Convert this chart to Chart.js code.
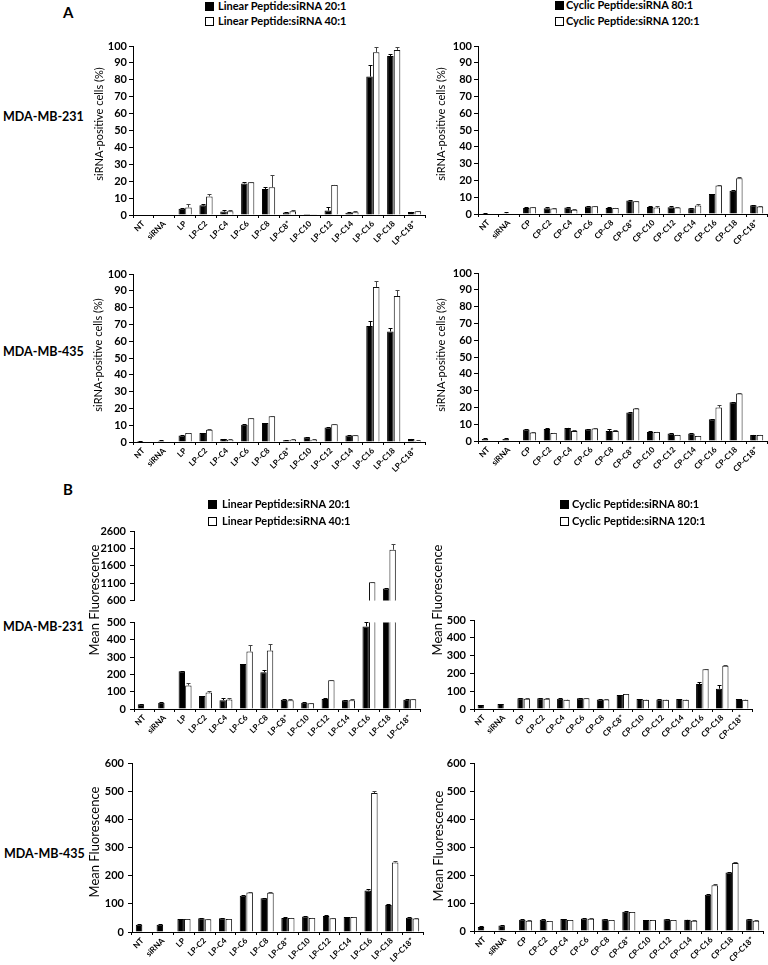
<!DOCTYPE html>
<html>
<head>
<meta charset="utf-8">
<script src="https://cdn.jsdelivr.net/npm/chart.js@4/dist/chart.umd.min.js"></script>
<style>
  html, body { margin:0; padding:0; background:#fff; }
  body { width:768px; height:965px; position:relative; overflow:hidden; font-family:'Lato', sans-serif; color:#000; }
  canvas { position:absolute; }
  .t { position:absolute; white-space:nowrap; }
  .lbl { font-weight:bold; font-size:12.5px; }
  .leg { font-weight:bold; font-size:11px; }
  .sq { position:absolute; width:7px; height:7px; border:1px solid #000; box-sizing:content-box; }
  .rot { position:absolute; white-space:nowrap; transform:translate(-50%,-50%) rotate(-90deg); z-index:5; }
</style>
</head>
<body>
<script>
// ---------------- DATA ----------------
const linearLabels = ['NT','siRNA','LP','LP-C2','LP-C4','LP-C6','LP-C8','LP-C8*','LP-C10','LP-C12','LP-C14','LP-C16','LP-C18','LP-C18*'];
const cyclicLabels = ['NT','siRNA','CP','CP-C2','CP-C4','CP-C6','CP-C8','CP-C8*','CP-C10','CP-C12','CP-C14','CP-C16','CP-C18','CP-C18*'];

// A: siRNA-positive cells (%)
const pos231Linear20 = [0, 0, 3.7, 5.7, 2.0, 18.7, 15.4, 1.5, 0.6, 2.6, 1.4, 81.9, 94.1, 1.8];
const pos231Linear20Err = [0, 0, 0.3, 0.6, 1.0, 1.0, 1.0, 0.2, 0, 2.0, 0.4, 6.7, 1.0, 0.2];
const pos231Linear40 = [0, 0, 4.5, 11.0, 2.2, 19.4, 16.4, 2.2, 0.2, 17.8, 1.6, 96.3, 97.7, 2.2];
const pos231Linear40Err = [0, 0, 1.9, 1.5, 0.5, 0.3, 7.0, 0.8, 0, 0.2, 0.5, 3.0, 2.0, 0.2];

const pos231Cyclic80 = [0.4, 0.5, 3.6, 3.4, 3.8, 4.4, 3.6, 8.0, 4.2, 4.0, 3.4, 11.9, 13.9, 5.2];
const pos231Cyclic80Err = [0.2, 0.5, 0.3, 0.5, 0.5, 0.5, 0.8, 0.2, 0.6, 0.5, 0.4, 0.3, 0.3, 0.2];
const pos231Cyclic120 = [0, 0, 4.0, 3.2, 2.6, 4.6, 3.6, 7.6, 3.8, 3.8, 5.0, 16.9, 21.3, 4.4];
const pos231Cyclic120Err = [0, 0, 0.2, 0.4, 0.3, 0.3, 0.2, 0.2, 1.2, 0.2, 1.2, 0.4, 0.8, 0.2];

const pos435Linear20 = [0.6, 0.8, 3.8, 5.3, 1.8, 10.3, 11.3, 1.0, 2.8, 8.7, 3.8, 69.0, 65.8, 1.8];
const pos435Linear20Err = [0.2, 0.2, 0.2, 0.3, 0.2, 0.3, 0.2, 0.2, 0.2, 0.3, 0.2, 3.3, 2.0, 0.2];
const pos435Linear40 = [0, 0, 5.3, 7.3, 1.4, 14.2, 15.4, 1.4, 1.4, 10.5, 4.0, 92.3, 86.9, 0.8];
const pos435Linear40Err = [0, 0, 0.2, 0.2, 0.3, 0.2, 0.2, 0.3, 0.3, 0.2, 0.2, 3.7, 3.8, 0.3];

const pos435Cyclic80 = [1.2, 1.2, 6.8, 7.2, 7.8, 7.0, 6.0, 16.9, 5.4, 4.4, 4.4, 12.9, 23.1, 3.6];
const pos435Cyclic80Err = [0.6, 0.5, 0.6, 0.5, 0.2, 0.2, 1.0, 0.4, 0.8, 0.6, 0.2, 0.2, 0.2, 0.2];
const pos435Cyclic120 = [0, 0, 5.0, 4.8, 6.0, 7.4, 6.0, 19.3, 5.4, 3.6, 3.0, 19.9, 28.2, 3.6];
const pos435Cyclic120Err = [0, 0, 0.2, 0.2, 0.3, 0.2, 0.4, 0.2, 0.2, 0.2, 0.2, 1.3, 0.3, 0.2];

// B: Mean Fluorescence
const mf231Linear20 = [27, 36, 218, 75, 51, 260, 213, 53, 36, 58, 51, 478, 940, 53];
const mf231Linear20Err = [2, 2, 3, 3, 15, 3, 15, 3, 2, 3, 2, 25, 30, 2];
const mf231Linear40 = [0, 0, 136, 95, 55, 333, 338, 51, 33, 167, 51, 1120, 2060, 57];
const mf231Linear40Err = [0, 0, 12, 10, 8, 40, 38, 4, 2, 2, 6, 20, 170, 3];

const mf231Cyclic80 = [22, 28, 60, 60, 58, 60, 54, 78, 56, 54, 56, 140, 114, 56];
const mf231Cyclic80Err = [2, 1, 2, 2, 2, 2, 2, 2, 2, 2, 2, 12, 20, 2];
const mf231Cyclic120 = [0, 0, 58, 58, 52, 60, 54, 84, 52, 52, 52, 224, 243, 52];
const mf231Cyclic120Err = [0, 0, 1, 1, 1, 1, 1, 2, 1, 1, 1, 2, 3, 1];

const mf435Linear20 = [26, 26, 46, 49, 49, 129, 120, 50, 55, 57, 53, 148, 96, 51];
const mf435Linear20Err = [2, 2, 1, 1, 1, 2, 2, 2, 2, 3, 1, 4, 4, 2];
const mf435Linear40 = [0, 0, 46, 45, 46, 141, 140, 50, 50, 49, 53, 495, 248, 48];
const mf435Linear40Err = [0, 0, 1, 1, 1, 1, 1, 1, 1, 1, 1, 9, 4, 1];

const mf435Cyclic80 = [14, 20, 40, 40, 43, 45, 42, 69, 39, 42, 40, 130, 210, 42];
const mf435Cyclic80Err = [4, 1, 2, 2, 1, 1, 1, 1, 1, 1, 1, 4, 2, 1];
const mf435Cyclic120 = [0, 0, 37, 36, 39, 44, 39, 68, 39, 39, 37, 164, 244, 37];
const mf435Cyclic120Err = [0, 0, 1, 1, 1, 1, 1, 1, 1, 1, 1, 4, 3, 1];

const brokenAxisSplit = 600; // upper segment of the broken axis starts here
// ---------------------------------------

Chart.defaults.font.family = 'Lato';
Chart.defaults.color = '#000';

const errorBars = {
  id: 'errorBars',
  afterDatasetsDraw(chart) {
    const ctx = chart.ctx, a = chart.chartArea;
    ctx.save();
    ctx.beginPath();
    ctx.rect(a.left, a.top - 2, a.right - a.left, a.bottom - a.top + 2);
    ctx.clip();
    chart.data.datasets.forEach((ds, i) => {
      const meta = chart.getDatasetMeta(i);
      const ys = chart.scales[meta.yAxisID];
      (ds.errors || []).forEach((e, j) => {
        const v = ds.data[j];
        if (v == null || !e) return;
        const bar = meta.data[j];
        if (!bar) return;
        const x = Math.round(bar.x) + 0.5;
        const y1 = ys.getPixelForValue(v);
        const y2 = Math.round(ys.getPixelForValue(v + e)) + 0.5;
        ctx.strokeStyle = ds.errColor || '#000';
        ctx.lineWidth = 1;
        ctx.beginPath();
        ctx.moveTo(x, y1);
        ctx.lineTo(x, y2);
        ctx.moveTo(x - 2, y2);
        ctx.lineTo(x + 2, y2);
        ctx.stroke();
      });
    });
    ctx.restore();
  }
};

function panel(cfg) {
  const yW = 40;
  const left = cfg.axisX - yW;
  const top = cfg.canvasTop;
  const bottom = cfg.canvasBottom;
  const right = cfg.canvasRight;
  const cv = document.createElement('canvas');
  cv.width = right - left;
  cv.height = bottom - top;
  cv.style.left = left + 'px';
  cv.style.top = top + 'px';
  cv.style.width = (right - left) + 'px';
  cv.style.height = (bottom - top) + 'px';
  document.body.appendChild(cv);
  const showX = cfg.showX !== false;
  new Chart(cv.getContext('2d'), {
    type: 'bar',
    data: {
      labels: cfg.labels,
      datasets: [
        { data: cfg.a, errors: cfg.aErr, backgroundColor: '#000', borderColor: '#000', borderWidth: 1, errColor: '#000',
          categoryPercentage: 0.64, barPercentage: 0.98 },
        { data: cfg.b, errors: cfg.bErr, backgroundColor: '#fff', borderColor: '#111', borderWidth: 1, errColor: '#444',
          categoryPercentage: 0.64, barPercentage: 0.98 }
      ]
    },
    options: {
      responsive: false,
      animation: false,
      layout: { padding: { top: cfg.topY - top, right: right - cfg.rightX, bottom: showX ? 0 : bottom - cfg.bottomY, left: 0 } },
      plugins: { legend: { display: false }, tooltip: { enabled: false } },
      scales: {
        x: {
          display: showX,
          grid: { offset: true, drawOnChartArea: false, drawTicks: true, tickLength: 3, color: '#000' },
          border: { color: '#000', width: 1 },
          ticks: { autoSkip: false, minRotation: 45, maxRotation: 45, padding: 1,
                   font: { family: 'Lato', weight: 'bold', size: 8 }, color: '#000' },
          afterFit: s => { s.height = bottom - cfg.bottomY; }
        },
        y: {
          min: cfg.min, max: cfg.max,
          grid: { drawOnChartArea: false, drawTicks: true, tickLength: 4, color: '#000' },
          border: { color: '#000', width: 1 },
          ticks: { stepSize: cfg.step, padding: cfg.tickPad || 2, format: { useGrouping: false },
                   font: { family: 'Lato', weight: 'bold', size: 11 }, color: '#000' },
          afterFit: s => { s.width = yW; }
        }
      }
    },
    plugins: [errorBars]
  });
}

// A row 1: MDA-MB-231
panel({ labels: linearLabels, a: pos231Linear20, aErr: pos231Linear20Err, b: pos231Linear40, bErr: pos231Linear40Err,
  min: 0, max: 100, step: 10, axisX: 133, rightX: 425, topY: 46, bottomY: 215,
  canvasTop: 34, canvasBottom: 256, canvasRight: 432 });
panel({ labels: cyclicLabels, a: pos231Cyclic80, aErr: pos231Cyclic80Err, b: pos231Cyclic120, bErr: pos231Cyclic120Err,
  min: 0, max: 100, step: 10, axisX: 478, rightX: 767, topY: 46, bottomY: 214,
  canvasTop: 34, canvasBottom: 256, canvasRight: 768 });
// A row 2: MDA-MB-435
panel({ labels: linearLabels, a: pos435Linear20, aErr: pos435Linear20Err, b: pos435Linear40, bErr: pos435Linear40Err,
  min: 0, max: 100, step: 10, axisX: 133, rightX: 425, topY: 274, bottomY: 442,
  canvasTop: 262, canvasBottom: 482, canvasRight: 432 });
panel({ labels: cyclicLabels, a: pos435Cyclic80, aErr: pos435Cyclic80Err, b: pos435Cyclic120, bErr: pos435Cyclic120Err,
  min: 0, max: 100, step: 10, axisX: 478, rightX: 767, topY: 273, bottomY: 441,
  canvasTop: 262, canvasBottom: 482, canvasRight: 768 });

// B row 1: MDA-MB-231 (broken axis on the linear panel)
const upperOf = arr => arr.map(v => v > brokenAxisSplit ? v : null);
panel({ labels: linearLabels, a: upperOf(mf231Linear20), aErr: mf231Linear20Err, b: upperOf(mf231Linear40), bErr: mf231Linear40Err,
  min: 600, max: 2600, step: 500, axisX: 134, rightX: 420, topY: 531, bottomY: 611, showX: false, tickPad: 4,
  canvasTop: 520, canvasBottom: 611, canvasRight: 428 });
panel({ labels: linearLabels, a: mf231Linear20, aErr: mf231Linear20Err, b: mf231Linear40, bErr: mf231Linear40Err,
  min: 0, max: 500, step: 100, axisX: 134, rightX: 420, topY: 618, bottomY: 709, tickPad: 4,
  canvasTop: 612, canvasBottom: 752, canvasRight: 428 });
panel({ labels: cyclicLabels, a: mf231Cyclic80, aErr: mf231Cyclic80Err, b: mf231Cyclic120, bErr: mf231Cyclic120Err,
  min: 0, max: 500, step: 100, axisX: 474, rightX: 752, topY: 620, bottomY: 709, tickPad: 4,
  canvasTop: 608, canvasBottom: 752, canvasRight: 768 });

// B row 2: MDA-MB-435
panel({ labels: linearLabels, a: mf435Linear20, aErr: mf435Linear20Err, b: mf435Linear40, bErr: mf435Linear40Err,
  min: 0, max: 600, step: 100, axisX: 132, rightX: 423, topY: 763, bottomY: 932, tickPad: 4,
  canvasTop: 753, canvasBottom: 965, canvasRight: 434 });
panel({ labels: cyclicLabels, a: mf435Cyclic80, aErr: mf435Cyclic80Err, b: mf435Cyclic120, bErr: mf435Cyclic120Err,
  min: 0, max: 600, step: 100, axisX: 474, rightX: 763, topY: 763, bottomY: 931, tickPad: 4,
  canvasTop: 753, canvasBottom: 965, canvasRight: 768 });

// ---------- text ----------
function text(cls, str, left, cy, h, extra) {
  const d = document.createElement('div');
  d.className = 't ' + cls;
  d.textContent = str;
  d.style.left = left + 'px';
  d.style.top = (cy - h / 2) + 'px';
  d.style.height = h + 'px';
  d.style.lineHeight = h + 'px';
  d.style.zIndex = 5;
  if (extra) Object.assign(d.style, extra);
  document.body.appendChild(d);
}
function square(left, top, fill) {
  const d = document.createElement('div');
  d.className = 'sq';
  d.style.left = left + 'px';
  d.style.top = top + 'px';
  d.style.background = fill;
  d.style.zIndex = 5;
  document.body.appendChild(d);
}
function ytitle(str, cx, cy, size) {
  const d = document.createElement('div');
  d.className = 'rot';
  d.textContent = str;
  d.style.left = cx + 'px';
  d.style.top = cy + 'px';
  d.style.fontSize = size + 'px';
  document.body.appendChild(d);
}

text('lbl', 'A', 63, 12, 16, { fontSize: '15px' });
text('lbl', 'B', 63, 489, 16, { fontSize: '15px' });

text('lbl', 'MDA-MB-231', 3, 117, 16);
text('lbl', 'MDA-MB-435', 3, 352, 16);
text('lbl', 'MDA-MB-231', 3, 627, 16);
text('lbl', 'MDA-MB-435', 4, 854, 16);

// legends
square(205, 2, '#000');   text('leg', 'Linear Peptide:siRNA 20:1', 218, 6, 14);
square(205, 17, '#fff');  text('leg', 'Linear Peptide:siRNA 40:1', 218, 21, 14);
square(555, 1, '#000');   text('leg', 'Cyclic Peptide:siRNA 80:1', 566, 5, 14);
square(555, 17, '#fff');  text('leg', 'Cyclic Peptide:siRNA 120:1', 566, 21, 14);
square(208, 500, '#000'); text('leg', 'Linear Peptide:siRNA 20:1', 222, 504, 14);
square(208, 517, '#fff'); text('leg', 'Linear Peptide:siRNA 40:1', 222, 521, 14);
square(560, 500, '#000'); text('leg', 'Cyclic Peptide:siRNA 80:1', 572, 504, 14);
square(560, 517, '#fff'); text('leg', 'Cyclic Peptide:siRNA 120:1', 572, 521, 14);

// y-axis titles
ytitle('siRNA-positive cells (%)', 98, 124, 11);
ytitle('siRNA-positive cells (%)', 440, 124, 11);
ytitle('siRNA-positive cells (%)', 97, 355, 11);
ytitle('siRNA-positive cells (%)', 440, 355, 11);
ytitle('Mean Fluorescence', 94, 600, 13);
ytitle('Mean Fluorescence', 437, 600, 13);
ytitle('Mean Fluorescence', 94, 842, 13);
ytitle('Mean Fluorescence', 438, 846, 13);
</script>
</body>
</html>
